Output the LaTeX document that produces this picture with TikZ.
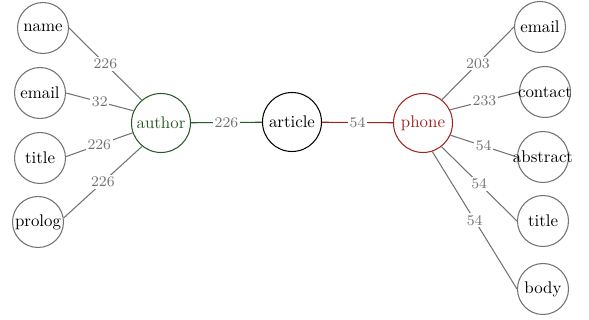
\documentclass[tikz,border=0pt]{standalone}
\usetikzlibrary{positioning}
\definecolor{authgreen}{RGB}{40,90,40}
\definecolor{phonered}{RGB}{160,35,35}
\definecolor{fieldgray}{RGB}{115,115,115}
\newcommand{\fld}[1]{\makebox[0pt]{#1}}
\tikzset{
    field/.style={
    circle,draw=fieldgray,line width=0.6pt,minimum size=1.02cm,inner sep=0pt,font=\fontsize{9.6}{11}\selectfont
    },
    hub/.style={
    circle,draw=black,line width=0.6pt,minimum size=1.18cm,inner sep=0pt,font=\fontsize{9.6}{11}\selectfont
    },
    weight/.style={
    fill=white,inner sep=1pt,text=fieldgray,font=\fontsize{8.4}{9}\selectfont
    },
}
\begin{document}
\begin{tikzpicture}[x=0.02cm, y=-0.02cm]
   \useasboundingbox (0,0) rectangle (589,320);
   \node[hub,draw=authgreen,text=authgreen] (author) at (161,123) {author};
   \node[hub] (article) at (292,122) {article};
   \node[hub,draw=phonered,text=phonered] (phone) at (423,123) {phone};
   % author fields
   \node[field] (aname) at (43,28) {\fld{name}};
   \node[field] (aemail) at (40,93) {\fld{email}};
   \node[field] (atitle) at (40,158) {\fld{title}};
   \node[field] (aprolog) at (38,222) {\fld{prolog}};
   % phone fields
   \node[field] (pemail) at (540,27) {\fld{email}};
   \node[field] (pcontact) at (545,92) {\fld{contact}};
   \node[field] (pabstract) at (543,157) {\fld{abstract}};
   \node[field] (ptitle) at (543,221) {\fld{title}};
   \node[field] (pbody) at (543,289) {\fld{body}};

  \path[draw=fieldgray,line width=0.6pt]
    (aname.0) edge node[weight] {226} (author.130)
    (aemail.0) edge node[weight] {32} (author.156)
    (atitle.3) edge node[weight] {226} (author.199)
    (aprolog.9) edge node[weight] {226} (author.231)
    (phone.51) edge node[weight] {203} (pemail.180)
    (phone.26) edge node[weight] {233} (pcontact.180)
    (phone.336) edge node[weight] {54} (pabstract.180)
    (phone.308) edge node[weight] {54} (ptitle.180)
    (phone.288) edge node[weight] {54} (pbody.180);
  \path[line width=0.6pt]
    (author) edge[draw=authgreen] node[weight] {226} (article)
    (article) edge[draw=phonered] node[weight] {54} (phone);
\end{tikzpicture}
\end{document}
